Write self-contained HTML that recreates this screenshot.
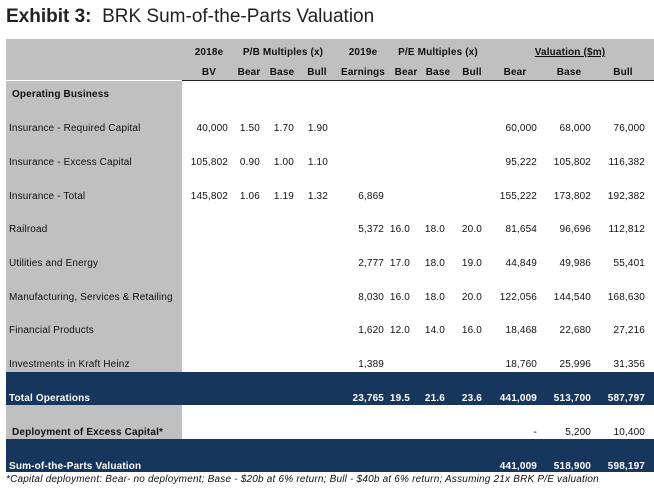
<!DOCTYPE html>
<html><head><meta charset="utf-8">
<style>
body{margin:0;width:654px;height:490px;background:#fff;position:relative;overflow:hidden;font-family:"Liberation Sans",sans-serif;}
.abs{position:absolute;white-space:nowrap;}
.t{font-size:10px;line-height:12px;color:#111;letter-spacing:0.15px;}
.b{font-weight:bold;}
.r{text-align:right;}
.c{text-align:center;}
.w{color:#fff;}
</style></head><body>
<div class="abs" style="left:6px;top:6px;font-size:19px;line-height:22px;color:#222;"><b>Exhibit 3:</b>&nbsp; BRK Sum-of-the-Parts Valuation</div>
<div class="abs" style="left:6px;top:39px;width:648px;height:41px;background:#c0c0c0"></div>
<div class="abs" style="left:182px;top:80px;width:472px;height:1px;background:#222"></div>
<div class="abs" style="left:6px;top:81px;width:176px;height:358px;background:#c0c0c0"></div>
<div class="abs" style="left:6px;top:372px;width:648px;height:33px;background:#17365d"></div>
<div class="abs" style="left:6px;top:439px;width:648px;height:33px;background:#17365d"></div>
<div id="tbl"></div>
<div class="abs" style="left:6px;top:474px;font-size:10px;line-height:12px;font-style:italic;color:#111;letter-spacing:0.2px">*Capital deployment: Bear- no deployment; Base - $20b at 6% return; Bull - $40b at 6% return; Assuming 21x BRK P/E valuation</div>
<script>
const headers1 = ["2018e","P/B Multiples (x)","2019e","P/E Multiples (x)","Valuation ($m)"];
const headers1X = [209,283,363,438,570];
const headers2 = ["BV","Bear","Base","Bull","Earnings","Bear","Base","Bull","Bear","Base","Bull"];
const headers2X = [209,249,282,317,363,406,438,472,515,569,623];
const colRight = [228,260,294,328,384,410,445,482,537,591,645];
const rowLabels = ["Insurance - Required Capital","Insurance - Excess Capital","Insurance - Total","Railroad","Utilities and Energy","Manufacturing, Services & Retailing","Financial Products","Investments in Kraft Heinz","Total Operations","Deployment of Excess Capital*","Sum-of-the-Parts Valuation"];
const rowY = [129,163,197,230,264,298,331,365,399,433,467];
const bv = ["40,000","105,802","145,802","","","","","","","",""];
const pbBear = ["1.50","0.90","1.06","","","","","","","",""];
const pbBase = ["1.70","1.00","1.19","","","","","","","",""];
const pbBull = ["1.90","1.10","1.32","","","","","","","",""];
const earnings = ["","","6,869","5,372","2,777","8,030","1,620","1,389","23,765","",""];
const peBear = ["","","","16.0","17.0","16.0","12.0","","19.5","",""];
const peBase = ["","","","18.0","18.0","18.0","14.0","","21.6","",""];
const peBull = ["","","","20.0","19.0","20.0","16.0","","23.6","",""];
const valBear = ["60,000","95,222","155,222","81,654","44,849","122,056","18,468","18,760","441,009","-","441,009"];
const valBase = ["68,000","105,802","173,802","96,696","49,986","144,540","22,680","25,996","513,700","5,200","518,900"];
const valBull = ["76,000","116,382","192,382","112,812","55,401","168,630","27,216","31,356","587,797","10,400","598,197"];
const cols = [bv,pbBear,pbBase,pbBull,earnings,peBear,peBase,peBull,valBear,valBase,valBull];
const tbl = document.getElementById('tbl');
function mk(txt,cls,style){const d=document.createElement('div');d.className='abs t '+cls;d.textContent=txt;d.style.cssText=style;tbl.appendChild(d);return d;}
headers1.forEach((h,i)=>{
  const d=mk(h,'b c','left:'+(headers1X[i]-60)+'px;width:120px;top:47px;'+(i==4?'text-decoration:underline;':''));
  
  
});
headers2.forEach((h,i)=>{
  const d=mk(h,'b c','left:'+(headers2X[i]-30)+'px;width:60px;top:67px;');
  
  
});
const ob=mk('Operating Business','b','left:12px;top:89px;');


rowLabels.forEach((lab,r)=>{
  const dark = (r===8||r===10);
  const bold = r>=8;
  const x = r===9?12:9;
  const d=mk(lab,(bold?'b ':'')+(dark?'w':''),'left:'+x+'px;top:'+(rowY[r]-6)+'px;');
  
  
  cols.forEach((col,c)=>{
    if(!col[r]) return;
    const v=mk(col[r],'r '+(bold&&r!==9?'b ':'')+(dark?'w':''),'left:'+(colRight[c]-60)+'px;width:60px;top:'+(rowY[r]-6)+'px;');
    
    
  });
});
</script>
</body></html>
